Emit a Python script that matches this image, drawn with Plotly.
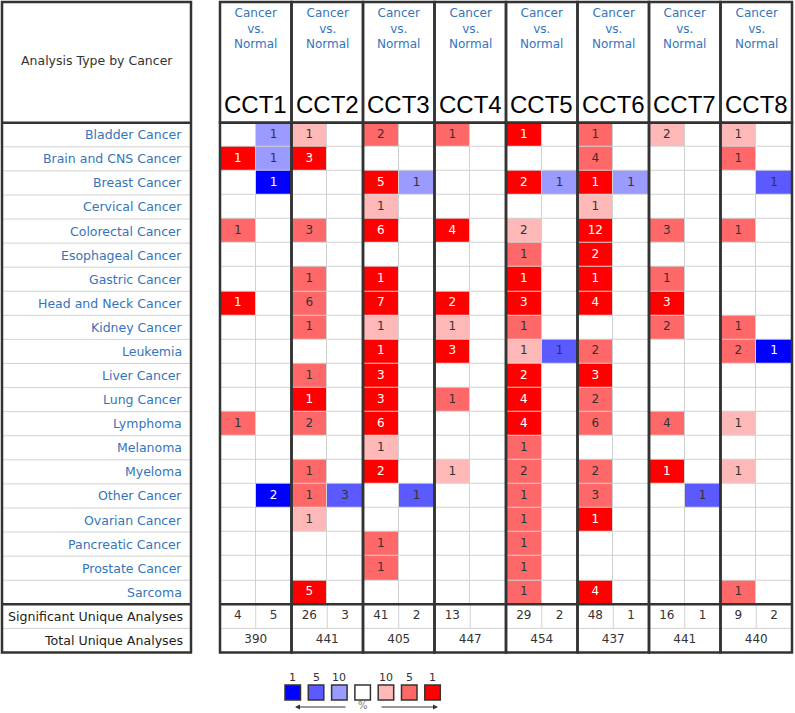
import plotly.graph_objects as go

# ---------------- data ----------------
CANCERS = ["Bladder Cancer", "Brain and CNS Cancer", "Breast Cancer", "Cervical Cancer",
           "Colorectal Cancer", "Esophageal Cancer", "Gastric Cancer", "Head and Neck Cancer",
           "Kidney Cancer", "Leukemia", "Liver Cancer", "Lung Cancer", "Lymphoma", "Melanoma",
           "Myeloma", "Other Cancer", "Ovarian Cancer", "Pancreatic Cancer", "Prostate Cancer",
           "Sarcoma"]
GENES = ["CCT1", "CCT2", "CCT3", "CCT4", "CCT5", "CCT6", "CCT7", "CCT8"]
COMPARISON = "Cancer<br>vs.<br>Normal"

# number of analyses with over-expression (rows = cancers, cols = genes)
UP_COUNTS = [
    [0, 1, 2, 1, 1, 1, 2, 1],
    [1, 3, 0, 0, 0, 4, 0, 1],
    [0, 0, 5, 0, 2, 1, 0, 0],
    [0, 0, 1, 0, 0, 1, 0, 0],
    [1, 3, 6, 4, 2, 12, 3, 1],
    [0, 0, 0, 0, 1, 2, 0, 0],
    [0, 1, 1, 0, 1, 1, 1, 0],
    [1, 6, 7, 2, 3, 4, 3, 0],
    [0, 1, 1, 1, 1, 0, 2, 1],
    [0, 0, 1, 3, 1, 2, 0, 2],
    [0, 1, 3, 0, 2, 3, 0, 0],
    [0, 1, 3, 1, 4, 2, 0, 0],
    [1, 2, 6, 0, 4, 6, 4, 1],
    [0, 0, 1, 0, 1, 0, 0, 0],
    [0, 1, 2, 1, 2, 2, 1, 1],
    [0, 1, 0, 0, 1, 3, 0, 0],
    [0, 1, 0, 0, 1, 1, 0, 0],
    [0, 0, 1, 0, 1, 0, 0, 0],
    [0, 0, 1, 0, 1, 0, 0, 0],
    [0, 5, 0, 0, 1, 4, 0, 1],
]
# best gene rank percentile of the over-expression cell (1, 5, 10 %; 0 = none)
UP_RANK_PCT = [
    [0, 10, 5, 5, 1, 5, 10, 10],
    [1, 1, 0, 0, 0, 5, 0, 5],
    [0, 0, 1, 0, 1, 1, 0, 0],
    [0, 0, 10, 0, 0, 10, 0, 0],
    [5, 5, 1, 1, 10, 1, 5, 5],
    [0, 0, 0, 0, 5, 1, 0, 0],
    [0, 5, 1, 0, 1, 1, 5, 0],
    [1, 5, 1, 1, 1, 1, 1, 0],
    [0, 5, 10, 10, 5, 0, 5, 5],
    [0, 0, 1, 1, 10, 5, 0, 5],
    [0, 5, 1, 0, 1, 1, 0, 0],
    [0, 1, 1, 5, 1, 5, 0, 0],
    [5, 5, 1, 0, 1, 5, 5, 10],
    [0, 0, 10, 0, 5, 0, 0, 0],
    [0, 5, 1, 10, 5, 5, 1, 10],
    [0, 5, 0, 0, 5, 5, 0, 0],
    [0, 10, 0, 0, 5, 1, 0, 0],
    [0, 0, 5, 0, 5, 0, 0, 0],
    [0, 0, 5, 0, 5, 0, 0, 0],
    [0, 1, 0, 0, 5, 1, 0, 5],
]
# number of analyses with under-expression
DOWN_COUNTS = [
    [1, 0, 0, 0, 0, 0, 0, 0],
    [1, 0, 0, 0, 0, 0, 0, 0],
    [1, 0, 1, 0, 1, 1, 0, 1],
    [0, 0, 0, 0, 0, 0, 0, 0],
    [0, 0, 0, 0, 0, 0, 0, 0],
    [0, 0, 0, 0, 0, 0, 0, 0],
    [0, 0, 0, 0, 0, 0, 0, 0],
    [0, 0, 0, 0, 0, 0, 0, 0],
    [0, 0, 0, 0, 0, 0, 0, 0],
    [0, 0, 0, 0, 1, 0, 0, 1],
    [0, 0, 0, 0, 0, 0, 0, 0],
    [0, 0, 0, 0, 0, 0, 0, 0],
    [0, 0, 0, 0, 0, 0, 0, 0],
    [0, 0, 0, 0, 0, 0, 0, 0],
    [0, 0, 0, 0, 0, 0, 0, 0],
    [2, 3, 1, 0, 0, 0, 1, 0],
    [0, 0, 0, 0, 0, 0, 0, 0],
    [0, 0, 0, 0, 0, 0, 0, 0],
    [0, 0, 0, 0, 0, 0, 0, 0],
    [0, 0, 0, 0, 0, 0, 0, 0],
]
DOWN_RANK_PCT = [
    [10, 0, 0, 0, 0, 0, 0, 0],
    [10, 0, 0, 0, 0, 0, 0, 0],
    [1, 0, 10, 0, 10, 10, 0, 5],
    [0, 0, 0, 0, 0, 0, 0, 0],
    [0, 0, 0, 0, 0, 0, 0, 0],
    [0, 0, 0, 0, 0, 0, 0, 0],
    [0, 0, 0, 0, 0, 0, 0, 0],
    [0, 0, 0, 0, 0, 0, 0, 0],
    [0, 0, 0, 0, 0, 0, 0, 0],
    [0, 0, 0, 0, 5, 0, 0, 1],
    [0, 0, 0, 0, 0, 0, 0, 0],
    [0, 0, 0, 0, 0, 0, 0, 0],
    [0, 0, 0, 0, 0, 0, 0, 0],
    [0, 0, 0, 0, 0, 0, 0, 0],
    [0, 0, 0, 0, 0, 0, 0, 0],
    [1, 5, 5, 0, 0, 0, 5, 0],
    [0, 0, 0, 0, 0, 0, 0, 0],
    [0, 0, 0, 0, 0, 0, 0, 0],
    [0, 0, 0, 0, 0, 0, 0, 0],
    [0, 0, 0, 0, 0, 0, 0, 0],
]
SIG_UP = [4, 26, 41, 13, 29, 48, 16, 9]
SIG_DOWN = [5, 3, 2, None, 2, 1, 1, 2]
TOTAL = [390, 441, 405, 447, 454, 437, 441, 440]
LEGEND_PCT = ["1", "5", "10", "", "10", "5", "1"]

# ---------------- style ----------------
BLUE3, BLUE2, BLUE1 = "#0000FF", "#5A5AFF", "#9A9AFF"
RED1, RED2, RED3 = "#FFB8B8", "#FF6868", "#FF0000"
SCALE_COLORS = [BLUE3, BLUE2, BLUE1, "#FFFFFF", RED1, RED2, RED3]
LEVEL = {1: 3, 5: 2, 10: 1, 0: 0}
LINK = "#3474BC"
DARK = "#333333"
GRID = "#D2D2D2"
FONT = "DejaVu Sans"

W, H = 795, 713
GX0, CW = 220.0, 35.75      # grid left edge and sub-column width (px)
GY0, RH = 122.7, 24.08      # grid top edge and row height (px)


def X(px):
    return (px - GX0) / CW


def Y(py):
    return (py - GY0) / RH


NR = len(CANCERS)
NG = len(GENES)

# ---------------- heatmap cells ----------------
z, cx, cy = [], [k + 0.5 for k in range(2 * NG)], [i + 0.5 for i in range(NR)]
tx_w, ty_w, tt_w, tx_d, ty_d, tt_d = [], [], [], [], [], []
for i in range(NR):
    row = []
    for g in range(NG):
        for side, counts, pct, sign in ((0, UP_COUNTS, UP_RANK_PCT, 1), (1, DOWN_COUNTS, DOWN_RANK_PCT, -1)):
            lev = LEVEL[pct[i][g]] if counts[i][g] else 0
            row.append(sign * lev)
            if counts[i][g]:
                if lev == 3:
                    tx_w.append(2 * g + side + 0.5); ty_w.append(i + 0.5); tt_w.append(str(counts[i][g]))
                else:
                    tx_d.append(2 * g + side + 0.5); ty_d.append(i + 0.5); tt_d.append(str(counts[i][g]))
    z.append(row)

colorscale = []
for k, c in enumerate(SCALE_COLORS):
    colorscale.append([k / 7, c])
    colorscale.append([(k + 1) / 7, c])

fig = go.Figure()
fig.add_trace(go.Heatmap(x=cx, y=cy, z=z, zmin=-3.5, zmax=3.5, colorscale=colorscale,
                         showscale=False, xgap=1, ygap=1, hoverinfo="skip"))
fig.add_trace(go.Scatter(x=tx_w, y=ty_w, text=tt_w, mode="text", hoverinfo="skip",
                         textfont=dict(family=FONT, size=12, color="white")))
fig.add_trace(go.Scatter(x=tx_d, y=ty_d, text=tt_d, mode="text", hoverinfo="skip",
                         textfont=dict(family=FONT, size=12, color=DARK)))

# summary rows
sx, sy, st = [], [], []
for g in range(NG):
    sx.append(2 * g + 0.5); sy.append(NR + 0.5); st.append(str(SIG_UP[g]))
    if SIG_DOWN[g] is not None:
        sx.append(2 * g + 1.5); sy.append(NR + 0.5); st.append(str(SIG_DOWN[g]))
    sx.append(2 * g + 1.0); sy.append(NR + 1.5); st.append(str(TOTAL[g]))
fig.add_trace(go.Scatter(x=sx, y=sy, text=st, mode="text", hoverinfo="skip",
                         textfont=dict(family=FONT, size=12, color=DARK)))

shapes = []
# grey background showing through cell gaps
shapes.append(dict(type="rect", x0=0, x1=2 * NG, y0=0, y1=NR, fillcolor=GRID,
                   line=dict(width=0), layer="below"))
ytop = Y(2)
LX0, LX1 = X(2), X(191)
# left table thin lines
for r in list(range(1, NR)) + [NR + 1]:
    shapes.append(dict(type="line", x0=LX0, x1=LX1, y0=r, y1=r, line=dict(color=GRID, width=1)))
# grid summary thin lines
shapes.append(dict(type="line", x0=0, x1=2 * NG, y0=NR + 1, y1=NR + 1, line=dict(color=GRID, width=1)))
for g in range(NG):
    shapes.append(dict(type="line", x0=2 * g + 1, x1=2 * g + 1, y0=NR, y1=NR + 1,
                       line=dict(color=GRID, width=1)))
# thick outlines
thick = dict(color=DARK, width=2.5)
shapes.append(dict(type="rect", x0=LX0, x1=LX1, y0=ytop, y1=NR + 2, line=thick))
shapes.append(dict(type="line", x0=LX0, x1=LX1, y0=0, y1=0, line=thick))
shapes.append(dict(type="line", x0=LX0, x1=LX1, y0=NR, y1=NR, line=thick))
for g in range(NG):
    shapes.append(dict(type="rect", x0=2 * g, x1=2 * g + 2, y0=ytop, y1=0, line=thick))
    shapes.append(dict(type="rect", x0=2 * g, x1=2 * g + 2, y0=0, y1=NR + 2, line=thick))
shapes.append(dict(type="line", x0=0, x1=2 * NG, y0=NR, y1=NR, line=thick))

annotations = []
# left labels
annotations.append(dict(x=(LX0 + LX1) / 2, y=Y(60), text="Analysis Type by Cancer", showarrow=False,
                        font=dict(family=FONT, size=12.5, color=DARK)))
for i, name in enumerate(CANCERS):
    annotations.append(dict(x=X(184), y=i + 0.5, text=name, showarrow=False, xanchor="right",
                            font=dict(family=FONT, size=12.5, color=LINK)))
annotations.append(dict(x=X(185), y=NR + 0.5, text="Significant Unique Analyses", showarrow=False,
                        xanchor="right", font=dict(family=FONT, size=12.6, color="#222222")))
annotations.append(dict(x=X(185), y=NR + 1.5, text="Total Unique Analyses", showarrow=False,
                        xanchor="right", font=dict(family=FONT, size=12.6, color="#222222")))
# gene headers
for g, gene in enumerate(GENES):
    annotations.append(dict(x=2 * g + 1, y=Y(28), text=COMPARISON, showarrow=False,
                            font=dict(family=FONT, size=12, color=LINK)))
    annotations.append(dict(x=2 * g + 1, y=Y(104), text=gene, showarrow=False,
                            font=dict(family="Liberation Sans", size=24, color="black")))

# colour legend
for k, (lab, col) in enumerate(zip(LEGEND_PCT, SCALE_COLORS)):
    x0 = 285 + 23.3 * k
    shapes.append(dict(type="rect", x0=X(x0), x1=X(x0 + 15.5), y0=Y(685), y1=Y(700),
                       fillcolor=col, line=dict(color=DARK, width=1.5)))
    if lab:
        annotations.append(dict(x=X(x0 + 7.75), y=Y(677), text=lab, showarrow=False,
                                font=dict(family=FONT, size=11, color=DARK)))
annotations.append(dict(x=X(295), y=Y(707), ax=X(347), ay=Y(707), axref="x", ayref="y",
                        xref="x", yref="y", text="", showarrow=True, arrowhead=2, arrowsize=1,
                        arrowwidth=1, arrowcolor=DARK))
annotations.append(dict(x=X(438), y=Y(707), ax=X(380), ay=Y(707), axref="x", ayref="y",
                        xref="x", yref="y", text="", showarrow=True, arrowhead=2, arrowsize=1,
                        arrowwidth=1, arrowcolor=DARK))
annotations.append(dict(x=X(363), y=Y(705), text="%", showarrow=False,
                        font=dict(family=FONT, size=10, color="#777777")))

fig.update_layout(
    width=W, height=H, margin=dict(l=0, r=0, t=0, b=0),
    paper_bgcolor="white", plot_bgcolor="white", showlegend=False,
    xaxis=dict(range=[X(0), X(W)], visible=False, fixedrange=True),
    yaxis=dict(range=[Y(H), Y(0)], visible=False, fixedrange=True),
    shapes=shapes, annotations=annotations,
)
fig.write_html("out.html", config={"displayModeBar": False},
               post_script="document.body.style.margin='0px';")
